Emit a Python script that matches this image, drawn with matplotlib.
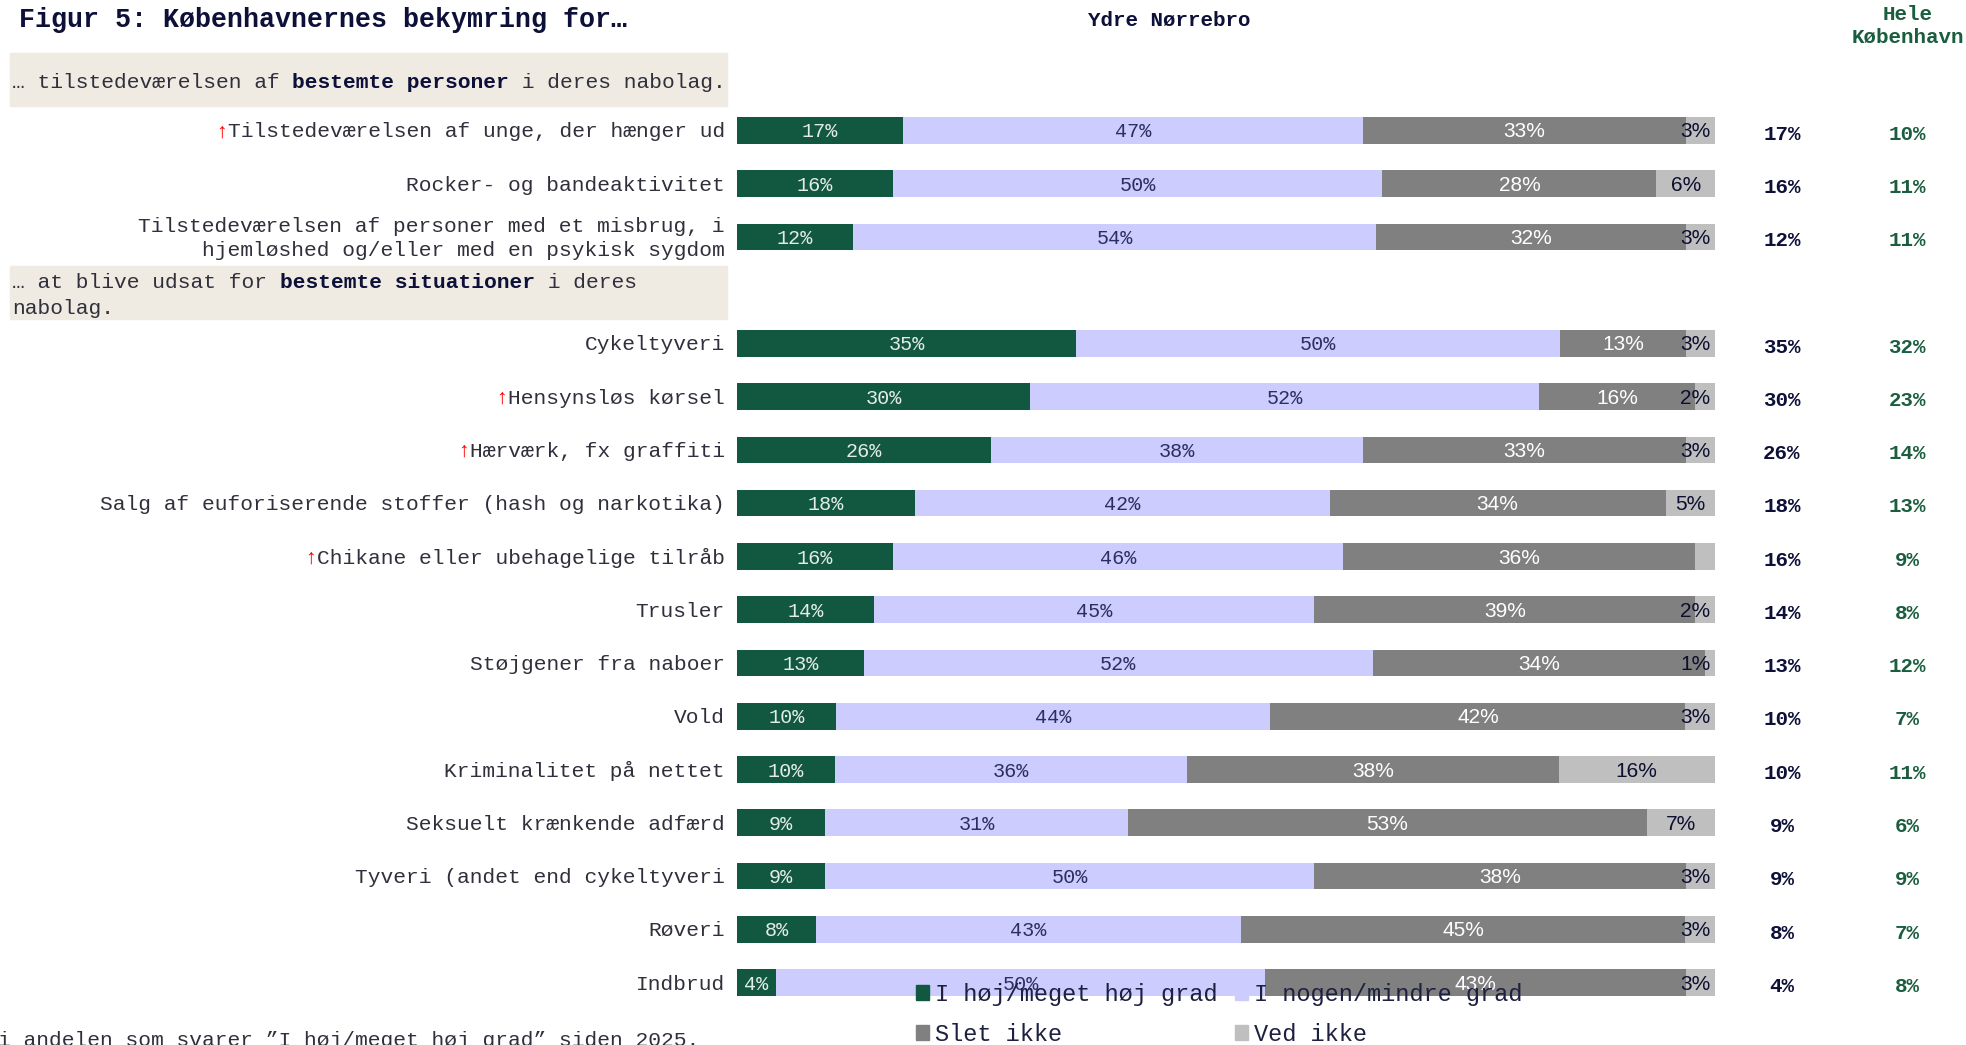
import matplotlib.pyplot as plt
from matplotlib.patches import Patch, Rectangle
from matplotlib.transforms import blended_transform_factory, offset_copy
import numpy as np

# Københavnernes bekymring - Ydre Nørrebro vs. hele København

labels = [
    'Tilstedeværelsen af unge, der hænger ud',
    'Rocker- og bandeaktivitet',
    'Tilstedeværelsen af personer med et misbrug, i\nhjemløshed og/eller med en psykisk sygdom',
    'Cykeltyveri',
    'Hensynsløs kørsel',
    'Hærværk, fx graffiti',
    'Salg af euforiserende stoffer (hash og narkotika)',
    'Chikane eller ubehagelige tilråb',
    'Trusler',
    'Støjgener fra naboer',
    'Vold',
    'Kriminalitet på nettet',
    'Seksuelt krænkende adfærd',
    'Tyveri (andet end cykeltyveri',
    'Røveri',
    'Indbrud',
]
# red arrow = significant increase since 2025
stigning = [True, False, False, False, True, True, False, True,
            False, False, False, False, False, False, False, False]

hoej = [17, 16, 12, 35, 30, 26, 18, 16, 14, 13, 10, 10, 9, 9, 8, 4]
nogen = [47, 50, 54, 50, 52, 38, 42, 46, 45, 52, 44, 36, 31, 50, 43, 50]
slet = [33, 28, 32, 13, 16, 33, 34, 36, 39, 34, 42, 38, 53, 38, 45, 43]
ved_ikke = [3, 6, 3, 3, 2, 3, 5, 2, 2, 1, 3, 16, 7, 3, 3, 3]
ved_ikke_vis = [True, True, True, True, True, True, True, False,
                True, True, True, True, True, True, True, True]
hele_kbh = [10, 11, 11, 32, 23, 14, 13, 9, 8, 12, 7, 11, 6, 9, 7, 8]

section_sizes = [3, 13]
section_headers = [
    [[('… tilstedeværelsen af ', 'normal'), ('bestemte personer', 'bold'),
      (' i deres nabolag.', 'normal')]],
    [[('… at blive udsat for ', 'normal'), ('bestemte situationer', 'bold'),
      (' i deres', 'normal')],
     [('nabolag.', 'normal')]],
]
legend_labels = ['I høj/meget høj grad', 'I nogen/mindre grad', 'Slet ikke', 'Ved ikke']

colors = ['#12573f', '#ccccff', '#808080', '#bfbfbf']
txt_colors = ['#e4ece8', '#2c2f5e', 'white', '#0b0e30']
mono = ['Liberation Mono', 'DejaVu Sans Mono']
sans = ['Liberation Sans', 'DejaVu Sans']
label_col = '#30303c'
navy = '#0d1038'
green_txt = '#1b5e3f'

W, H = 1966, 1045
fig = plt.figure(figsize=(W / 100, H / 100), dpi=100)
ax = fig.add_axes([737 / W, 1 - 1009.2 / H, (1715 - 737) / W, (1009.2 - 50.4) / H])
ax.set_xlim(0, 100)
ax.set_ylim(17.5, -0.5)
ax.axis('off')
tr = blended_transform_factory(fig.transFigure, ax.transData)

# slot layout: a header slot before each section
row_y = []
header_y = []
slot = 0
for size in section_sizes:
    header_y.append(slot)
    slot += 1
    for _ in range(size):
        row_y.append(slot)
        slot += 1
row_y = np.array(row_y)

# section headers
fs = 15.3
cw = 0.6 * fs
for hy, lines in zip(header_y, section_headers):
    ax.add_patch(Rectangle((10 / W, hy - 0.45), 717 / W, 1.0, transform=tr,
                           color='#efeae2', clip_on=False, zorder=0))
    n = len(lines)
    for li, parts in enumerate(lines):
        ly = hy + 0.1 if n == 1 else hy - 0.14 + li * 0.49
        pos = 0
        for txt, weight in parts:
            t = offset_copy(tr, fig=fig, x=pos * cw, units='points')
            fig.text(12 / W, ly, txt, transform=t, family=mono, fontsize=fs,
                     fontweight=weight, color=navy if weight == 'bold' else label_col,
                     va='center', ha='left')
            pos += len(txt)

# row labels
for y, lab, up in zip(row_y, labels, stigning):
    fig.text(725 / W, y + 0.03, lab, transform=tr, family=mono, fontsize=fs, color=label_col,
             ha='right', va='center', multialignment='right', linespacing=1.3)
    if up:
        w = len(lab) * cw
        t = offset_copy(tr, fig=fig, x=-w, units='points')
        fig.text(725 / W, y + 0.03, '↑', transform=t, family=mono, fontsize=fs, color='red',
                 ha='right', va='center')

# stacked bars
data = np.array([hoej, nogen, slet, ved_ikke], dtype=float)
shares = data / data.sum(axis=0) * 100
left = np.zeros(len(labels))
for k in range(4):
    ax.barh(row_y, shares[k], left=left, height=0.5, color=colors[k], linewidth=0)
    for i in range(len(labels)):
        if k == 3 and not ved_ikke_vis[i]:
            continue
        cx = left[i] + shares[k, i] / 2
        if k == 3:
            cx = min(cx, 98.0)
        ax.text(cx, row_y[i] + 0.03, f'{int(data[k, i])}%', ha='center', va='center',
                color=txt_colors[k], family=mono if k < 2 else sans,
                fontsize=14.5 if k < 2 else 15)
    left += shares[k]

# right-hand columns
for y, a, b in zip(row_y, hoej, hele_kbh):
    fig.text(1782 / W, y + 0.07, f'{a}%', transform=tr, family=mono, fontsize=15,
             fontweight='bold', color=navy, ha='center', va='center')
    fig.text(1907 / W, y + 0.07, f'{b}%', transform=tr, family=mono, fontsize=15,
             fontweight='bold', color=green_txt, ha='center', va='center')

# titles
fig.text(19 / W, 1 - 20 / H, 'Figur 5: Københavnernes bekymring for…', family=mono,
         fontsize=19.2, fontweight='bold', color=navy, ha='left', va='center')
fig.text(1169 / W, 1 - 20 / H, 'Ydre Nørrebro', family=mono, fontsize=15,
         fontweight='bold', color=navy, ha='center', va='center')
fig.text(1908 / W, 1 - 26 / H, 'Hele\nKøbenhavn', family=mono, fontsize=15,
         fontweight='bold', color=green_txt, ha='center', va='center', linespacing=1.3)

# legend
handles = [Patch(color=c) for c in colors]
order = [0, 2, 1, 3]
fig.legend([handles[i] for i in order], [legend_labels[i] for i in order], ncol=2,
           loc='upper left', bbox_to_anchor=(916 / W, 1 - 983 / H), frameon=False,
           prop={'family': mono, 'size': 17}, labelcolor='#1e2040',
           handlelength=0.55, handleheight=0.6, handletextpad=0.25,
           columnspacing=0.75, labelspacing=0.7, borderpad=0, borderaxespad=0)

# footnote (cut at the figure edge)
fig.text(-2 / W, 1 - 1040 / H, 'i andelen som svarer ”I høj/meget høj grad” siden 2025.',
         family=mono, fontsize=fs, color=label_col, ha='left', va='center')

fig.savefig('out.png', dpi=100)
